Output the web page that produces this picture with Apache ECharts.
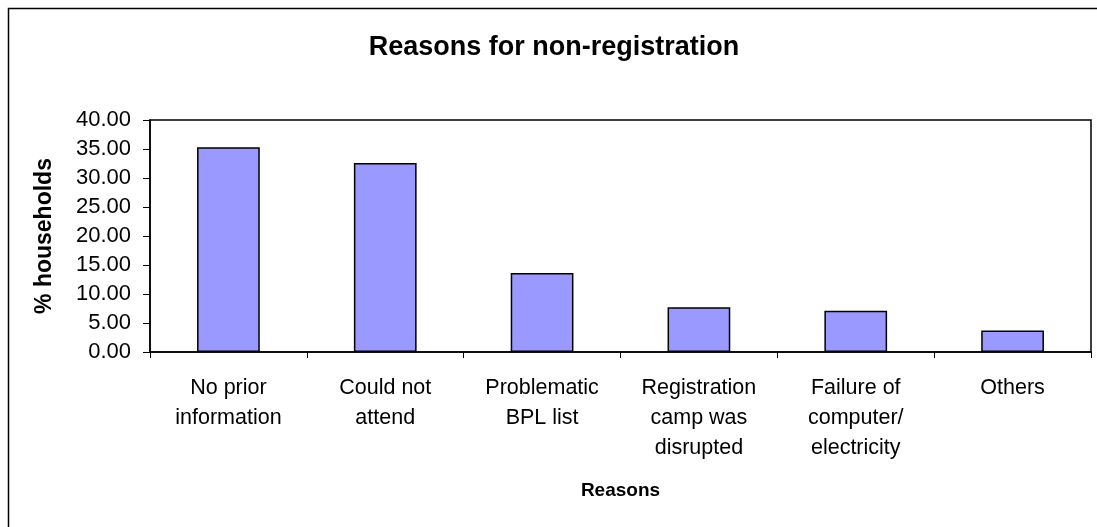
<!DOCTYPE html>
<html>
<head>
<meta charset="utf-8">
<script src="https://cdn.jsdelivr.net/npm/echarts@6/dist/echarts.min.js"></script>
<style>
html,body{margin:0;padding:0;background:#fff;}
#c{width:1097px;height:527px;}
</style>
</head>
<body>
<div id="c"></div>
<script>
const titleText = 'Reasons for non-registration';
const categories = [
  'No prior\ninformation',
  'Could not\nattend',
  'Problematic\nBPL list',
  'Registration\ncamp was\ndisrupted',
  'Failure of\ncomputer/\nelectricity',
  'Others'
];
const values = [35.3, 32.6, 13.6, 7.7, 7.1, 3.7];
const yAxisName = '% households';
const xAxisName = 'Reasons';
const yMin = 0, yMax = 40, yStep = 5;

const font = 'Liberation Sans, Arial, sans-serif';
const chart = echarts.init(document.getElementById('c'), null, {renderer: 'canvas'});
chart.setOption({
  animation: false,
  backgroundColor: '#fff',
  title: {
    text: titleText,
    left: 549, top: 29, textAlign: 'center',
    textStyle: {fontFamily: font, fontSize: 27, fontWeight: 'bold', color: '#000'}
  },
  graphic: [{
    type: 'rect', silent: true,
    shape: {x: 8.5, y: 8.5, width: 1200, height: 700},
    style: {fill: 'none', stroke: '#000', lineWidth: 1.5}
  }],
  grid: {
    left: 150, top: 120, right: 6, bottom: 175,
    show: true, borderColor: '#000', borderWidth: 1.5, backgroundColor: 'transparent'
  },
  xAxis: {
    type: 'category',
    data: categories,
    name: xAxisName,
    nameLocation: 'middle',
    nameGap: 129,
    nameTextStyle: {fontFamily: font, fontSize: 19, fontWeight: 'bold', color: '#000'},
    axisLine: {lineStyle: {color: '#000', width: 1.5}},
    axisTick: {show: true, length: 6, alignWithLabel: false, lineStyle: {color: '#000'}},
    axisLabel: {
      interval: 0, margin: 21,
      fontFamily: font, fontSize: 21.5, lineHeight: 30, color: '#000', align: 'center'
    }
  },
  yAxis: {
    type: 'value',
    min: yMin, max: yMax, interval: yStep,
    name: yAxisName,
    nameLocation: 'middle',
    nameGap: 94,
    nameRotate: 90,
    nameTextStyle: {fontFamily: font, fontSize: 23, fontWeight: 'bold', color: '#000'},
    axisLine: {show: true, lineStyle: {color: '#000', width: 1.5}},
    axisTick: {show: true, length: 7, lineStyle: {color: '#000'}},
    splitLine: {show: false},
    axisLabel: {
      margin: 19,
      fontFamily: font, fontSize: 22, color: '#000',
      formatter: v => v.toFixed(2)
    }
  },
  series: [{
    type: 'bar',
    data: values,
    barCategoryGap: '60%',
    itemStyle: {color: '#9999FF', borderColor: '#000', borderWidth: 1.5}
  }]
});
</script>
</body>
</html>
